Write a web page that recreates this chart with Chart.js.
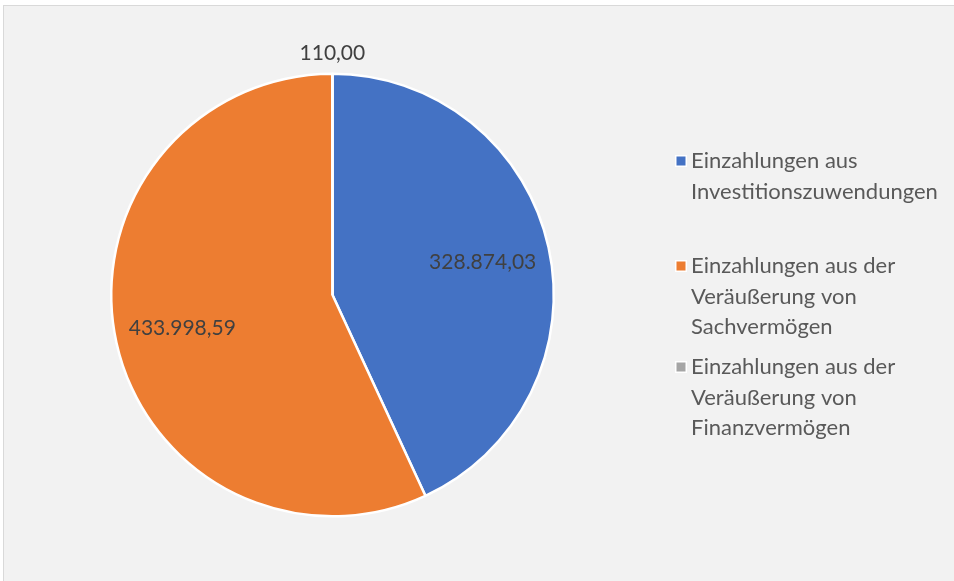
<!DOCTYPE html>
<html>
<head>
<meta charset="utf-8">
<script src="https://cdn.jsdelivr.net/npm/chart.js@4.4.1/dist/chart.umd.min.js"></script>
<style>
html,body{margin:0;padding:0;background:#ffffff;}
#wrap{position:relative;width:954px;height:581px;}
canvas{display:block;}
</style>
</head>
<body>
<div id="wrap"><canvas id="c" width="954" height="581"></canvas></div>
<script>
const categories = [
  "Einzahlungen aus Investitionszuwendungen",
  "Einzahlungen aus der Veräußerung von Sachvermögen",
  "Einzahlungen aus der Veräußerung von Finanzvermögen"
];
const legendLines = [
  ["Einzahlungen aus", "Investitionszuwendungen"],
  ["Einzahlungen aus der", "Veräußerung von", "Sachvermögen"],
  ["Einzahlungen aus der", "Veräußerung von", "Finanzvermögen"]
];
const values = [328874.03, 433998.59, 110.00];
const colors = ["#4472C4", "#ED7D31", "#A5A5A5"];

const FONT = "Lato, 'Open Sans', sans-serif";
const FS = 21;
const LEG_FS = 22;

function fmtDE(v) {
  const parts = v.toFixed(2).split(".");
  const int = parts[0].replace(/\B(?=(\d{3})+(?!\d))/g, ".");
  return int + "," + parts[1];
}

const framePlugin = {
  id: "frame",
  beforeDraw(chart) {
    const ctx = chart.ctx;
    ctx.save();
    ctx.fillStyle = "#ffffff";
    ctx.fillRect(0, 0, chart.width, chart.height);
    ctx.fillStyle = "#f2f2f2";
    ctx.fillRect(4, 6, chart.width, chart.height);
    ctx.strokeStyle = "#d9d9d9";
    ctx.lineWidth = 1;
    ctx.strokeRect(3.5, 5.5, chart.width + 10, chart.height + 10);
    ctx.restore();
  }
};

const labelPlugin = {
  id: "sliceLabels",
  afterDatasetsDraw(chart) {
    const ctx = chart.ctx;
    const meta = chart.getDatasetMeta(0);
    const total = values.reduce((a, b) => a + b, 0);
    ctx.save();
    ctx.font = FS + "px " + FONT;
    ctx.fillStyle = "#404040";
    ctx.textAlign = "center";
    ctx.textBaseline = "middle";
    meta.data.forEach((arc, i) => {
      const p = arc.getProps(["x", "y", "startAngle", "endAngle", "outerRadius"], true);
      const mid = (p.startAngle + p.endAngle) / 2;
      const small = values[i] / total < 0.02;
      const r = small ? p.outerRadius + 21 : p.outerRadius * 0.695;
      const x = p.x + Math.cos(mid) * r;
      const y = p.y + Math.sin(mid) * r;
      ctx.fillText(fmtDE(values[i]), x, y);
    });
    ctx.restore();
  }
};

const legendPlugin = {
  id: "customLegend",
  afterDraw(chart) {
    const ctx = chart.ctx;
    const startY = [161, 266, 367];
    const lineH = 30.5;
    ctx.save();
    ctx.font = LEG_FS + "px " + FONT;
    ctx.textAlign = "left";
    ctx.textBaseline = "middle";
    legendLines.forEach((lines, i) => {
      const y0 = startY[i];
      ctx.fillStyle = "#ffffff";
      ctx.fillRect(675, y0 - 6, 12, 12);
      ctx.fillStyle = chart.data.datasets[0].backgroundColor[i];
      ctx.fillRect(676.5, y0 - 4.5, 9, 9);
      ctx.fillStyle = "#595959";
      lines.forEach((t, j) => ctx.fillText(t, 691, y0 + j * lineH));
    });
    ctx.restore();
  }
};

new Chart(document.getElementById("c"), {
  type: "pie",
  data: {
    labels: categories,
    datasets: [{
      data: values,
      backgroundColor: colors,
      borderColor: "#ffffff",
      borderWidth: 2.5
    }]
  },
  options: {
    responsive: false,
    animation: false,
    layout: { padding: { left: 110, right: 399, top: 72.5, bottom: 63.5 } },
    plugins: {
      legend: { display: false },
      tooltip: { enabled: false }
    }
  },
  plugins: [framePlugin, labelPlugin, legendPlugin]
});
</script>
</body>
</html>
